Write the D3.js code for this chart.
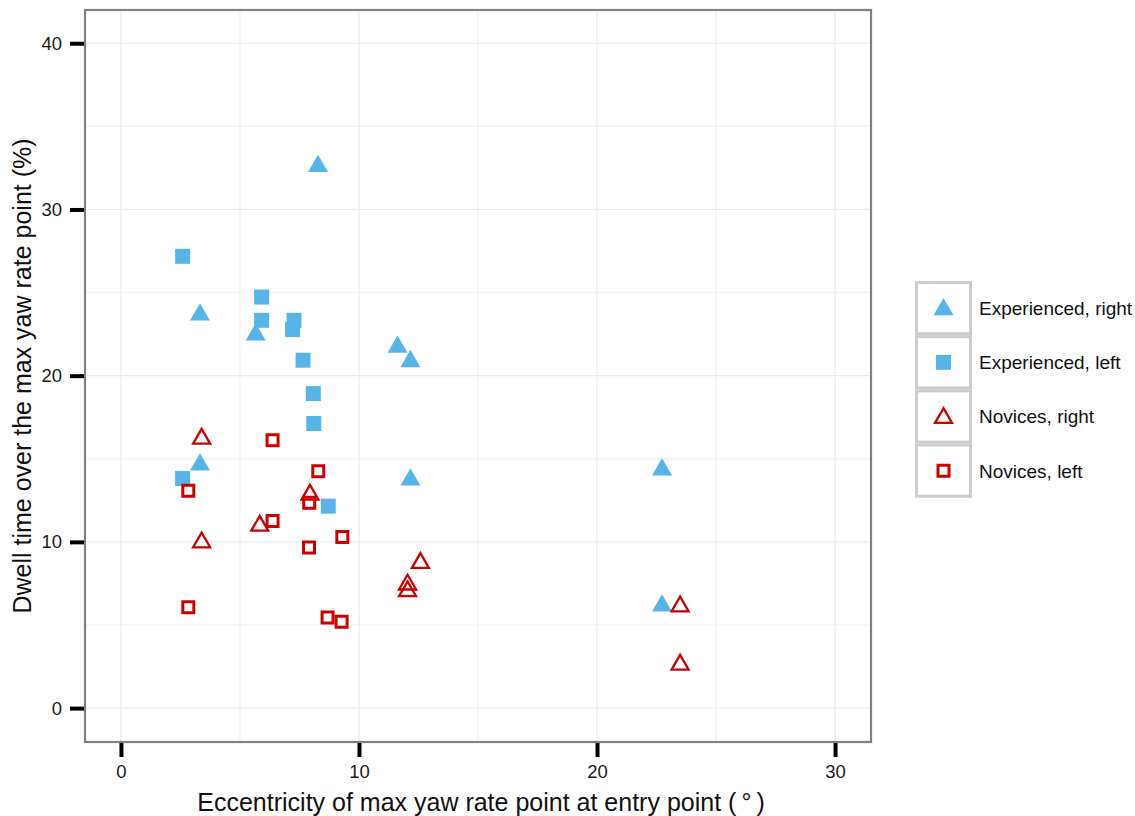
<!DOCTYPE html>
<html>
<head>
<meta charset="utf-8">
<script src="https://cdn.jsdelivr.net/npm/d3@7"></script>
<style>
  html, body { margin: 0; padding: 0; background: #fff; }
  svg { display: block; font-family: "Liberation Sans", Arial, sans-serif; }
</style>
</head>
<body>
<svg id="chart" width="1135" height="816"></svg>
<script>
// Eccentricity (deg) and dwell time (%) for each group
const expRightX = [8.28, 3.32, 5.66, 11.62, 12.16, 3.32, 12.16, 22.73, 22.73];
const expRightY = [32.6, 23.66, 22.46, 21.72, 20.86, 14.64, 13.74, 14.34, 6.16];

const expLeftX = [2.59, 5.91, 5.91, 7.27, 7.21, 7.65, 8.08, 8.10, 2.59, 8.71];
const expLeftY = [27.18, 24.73, 23.33, 23.33, 22.77, 20.93, 18.92, 17.12, 13.81, 12.15];

const novRightX = [3.39, 3.39, 5.83, 7.94, 12.58, 12.04, 12.04, 23.49, 23.49];
const novRightY = [16.21, 9.97, 10.97, 12.84, 8.73, 7.43, 7.03, 6.12, 2.61];

const novLeftX = [6.37, 8.29, 2.83, 7.91, 6.37, 9.30, 7.90, 2.83, 8.68, 9.27];
const novLeftY = [16.12, 14.25, 13.07, 12.35, 11.26, 10.30, 9.66, 6.06, 5.45, 5.19];

const groupNames = ["Experienced, right", "Experienced, left", "Novices, right", "Novices, left"];
const xTicks = [0, 10, 20, 30];
const yTicks = [0, 10, 20, 30, 40];
const xMinor = [5, 15, 25];
const yMinor = [5, 15, 25, 35];

const BLUE = "#56B4E9", RED = "#CC0000";

const groups = [
  { name: groupNames[0], xs: expRightX, ys: expRightY, shape: "tri",  filled: true,  color: BLUE },
  { name: groupNames[1], xs: expLeftX,  ys: expLeftY,  shape: "sq",   filled: true,  color: BLUE },
  { name: groupNames[2], xs: novRightX, ys: novRightY, shape: "tri",  filled: false, color: RED },
  { name: groupNames[3], xs: novLeftX,  ys: novLeftY,  shape: "sq",   filled: false, color: RED }
];

const panel = { left: 85, right: 871, top: 10, bottom: 742 };
const x = d3.scaleLinear().domain([-1.51, 31.51]).range([panel.left, panel.right]);
const y = d3.scaleLinear().domain([-2.04, 42.0]).range([panel.bottom, panel.top]);

const svg = d3.select("#chart");

// symbol generators
function symbolFor(g) {
  if (g.shape === "tri") {
    const side = g.filled ? 20 : 17;
    return d3.symbol().type(d3.symbolTriangle).size(Math.sqrt(3) / 4 * side * side)();
  } else {
    const side = g.filled ? 15 : 11;
    return d3.symbol().type(d3.symbolSquare).size(side * side)();
  }
}
function styleMark(sel, g) {
  if (g.filled) {
    sel.attr("fill", g.color).attr("stroke", "none");
  } else {
    sel.attr("fill", "none").attr("stroke", g.color)
       .attr("stroke-width", g.shape === "sq" ? 3 : 2.3)
       .attr("stroke-linejoin", "miter");
  }
}

// panel background and grid
svg.append("rect")
  .attr("x", panel.left).attr("y", panel.top)
  .attr("width", panel.right - panel.left).attr("height", panel.bottom - panel.top)
  .attr("fill", "#fff");

const grid = svg.append("g");
grid.selectAll(".vminor").data(xMinor).join("line")
  .attr("x1", d => x(d)).attr("x2", d => x(d))
  .attr("y1", panel.top).attr("y2", panel.bottom)
  .attr("stroke", "#f4f4f4").attr("stroke-width", 1.5);
grid.selectAll(".hminor").data(yMinor).join("line")
  .attr("y1", d => y(d)).attr("y2", d => y(d))
  .attr("x1", panel.left).attr("x2", panel.right)
  .attr("stroke", "#f4f4f4").attr("stroke-width", 1.5);
grid.selectAll(".vmajor").data(xTicks).join("line")
  .attr("x1", d => x(d)).attr("x2", d => x(d))
  .attr("y1", panel.top).attr("y2", panel.bottom)
  .attr("stroke", "#ebebeb").attr("stroke-width", 1.2);
grid.selectAll(".hmajor").data(yTicks).join("line")
  .attr("y1", d => y(d)).attr("y2", d => y(d))
  .attr("x1", panel.left).attr("x2", panel.right)
  .attr("stroke", "#ebebeb").attr("stroke-width", 1.2);

// points
groups.forEach(g => {
  const pts = g.xs.map((v, i) => [v, g.ys[i]]);
  const path = symbolFor(g);
  const sel = svg.append("g").selectAll("path").data(pts).join("path")
    .attr("d", path)
    .attr("transform", d => `translate(${x(d[0])},${y(d[1])})`);
  styleMark(sel, g);
});

// panel border
svg.append("rect")
  .attr("x", panel.left).attr("y", panel.top)
  .attr("width", panel.right - panel.left).attr("height", panel.bottom - panel.top)
  .attr("fill", "none").attr("stroke", "#808080").attr("stroke-width", 2.2);

// axes
const xAxis = d3.axisBottom(x).tickValues(xTicks).tickSize(14).tickPadding(8).tickSizeOuter(0);
const gx = svg.append("g").attr("transform", `translate(0,${panel.bottom + 1})`).call(xAxis);
gx.select(".domain").remove();
gx.selectAll(".tick line").attr("stroke", "#000").attr("stroke-width", 4);
gx.selectAll(".tick text").attr("font-size", 18.5).attr("fill", "#1a1a1a")
  .attr("font-family", "Liberation Sans, Arial, sans-serif");

const yAxis = d3.axisLeft(y).tickValues(yTicks).tickSize(14).tickPadding(8).tickSizeOuter(0);
const gy = svg.append("g").attr("transform", `translate(${panel.left - 1},0)`).call(yAxis);
gy.select(".domain").remove();
gy.selectAll(".tick line").attr("stroke", "#000").attr("stroke-width", 4);
gy.selectAll(".tick text").attr("font-size", 18.5).attr("fill", "#1a1a1a")
  .attr("font-family", "Liberation Sans, Arial, sans-serif");

// axis titles
const xt = svg.append("text")
  .attr("x", (panel.left + panel.right) / 2 + 3).attr("y", 811)
  .attr("text-anchor", "middle").attr("font-size", 25).attr("fill", "#111");
xt.append("tspan").text("Eccentricity of max yaw rate point at entry point (\u2009");
xt.append("tspan").text("\u00B0");
xt.append("tspan").text("\u2009)");

svg.append("text")
  .attr("transform", `translate(31,${(panel.top + panel.bottom) / 2}) rotate(-90)`)
  .attr("text-anchor", "middle").attr("font-size", 25).attr("fill", "#111")
  .text("Dwell time over the max yaw rate point (%)");

// legend
const legend = svg.append("g").attr("transform", "translate(915,281)");
const keyW = 57, keyH = 54.2;
groups.forEach((g, i) => {
  const k = legend.append("g").attr("transform", `translate(0,${i * keyH})`);
  k.append("rect").attr("x", 1.5).attr("y", 1.5)
    .attr("width", keyW - 3).attr("height", keyH - 3)
    .attr("fill", "#fff").attr("stroke", "#cccccc").attr("stroke-width", 3);
  const m = k.append("path").attr("d", symbolFor(g))
    .attr("transform", `translate(28.5,${keyH / 2 + (g.shape === "tri" ? 1.5 : 0)})`);
  styleMark(m, g);
  k.append("text").attr("x", 64).attr("y", keyH / 2).attr("dy", "0.36em")
    .attr("font-size", 19).attr("fill", "#111").text(g.name);
});
</script>
</body>
</html>
